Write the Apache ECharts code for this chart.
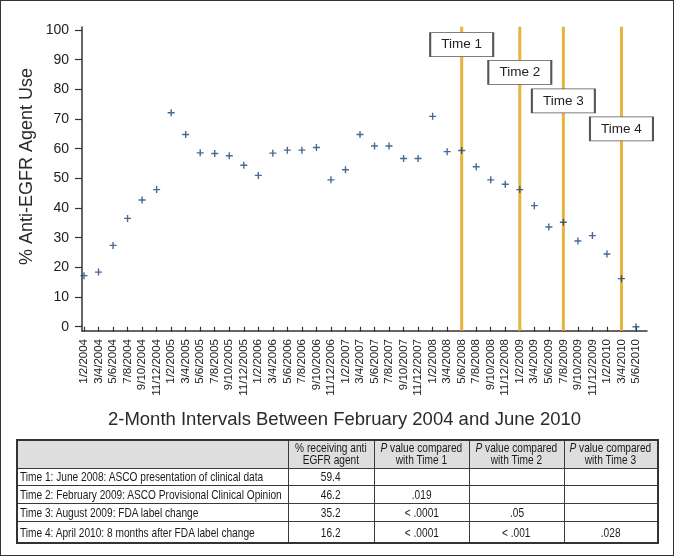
<!DOCTYPE html>
<html>
<head>
<meta charset="utf-8">
<script src="https://cdn.jsdelivr.net/npm/echarts@6/dist/echarts.min.js"></script>
<style>
  html, body { margin:0; padding:0; background:#fff; }
  #wrap { position:relative; width:675px; height:558px; overflow:hidden; }
  #chart { position:absolute; left:0; top:0; width:675px; height:558px; }
  #frame { position:absolute; left:0; top:0; width:672px; height:554px; border:1.5px solid #333; pointer-events:none; }
  #tbl { position:absolute; left:16px; top:439px; width:642px; border-collapse:collapse; table-layout:fixed;
         font-family:'Liberation Sans', Arial, sans-serif; font-size:13px; color:#1a1a1a; border:2px solid #333; }
  #tbl td { border:1.5px solid #3a3a3a; padding:0; overflow:hidden; white-space:nowrap; }
  #tbl tr.hd td { background:#dedede; text-align:center; line-height:12.5px; }
  #tbl td.c { text-align:center; }
  #tbl td.l { text-align:left; padding-left:2px; }
  .s { display:inline-block; transform:scaleX(0.78); white-space:nowrap; }
  td.l .s { transform-origin:left center; }
  td.c .s, tr.hd .s { transform-origin:center center; margin:0 -60px; }
</style>
</head>
<body>
<div id="wrap">
  <div id="chart"></div>
  <table id="tbl"></table>
  <div id="frame"></div>
</div>
<script>
// ---- data ----
const dates = ['1/2/2004','3/4/2004','5/6/2004','7/8/2004','9/10/2004','11/12/2004',
  '1/2/2005','3/4/2005','5/6/2005','7/8/2005','9/10/2005','11/12/2005',
  '1/2/2006','3/4/2006','5/6/2006','7/8/2006','9/10/2006','11/12/2006',
  '1/2/2007','3/4/2007','5/6/2007','7/8/2007','9/10/2007','11/12/2007',
  '1/2/2008','3/4/2008','5/6/2008','7/8/2008','9/10/2008','11/12/2008',
  '1/2/2009','3/4/2009','5/6/2009','7/8/2009','9/10/2009','11/12/2009',
  '1/2/2010','3/4/2010','5/6/2010'];
const usePct = [17.2,18.4,27.4,36.5,42.7,46.2,72.1,64.8,58.6,58.4,57.6,54.4,
  51.0,58.5,59.5,59.5,60.4,49.5,52.9,64.8,60.9,60.9,56.7,56.7,
  70.9,59.0,59.4,53.9,49.5,48.0,46.2,40.8,33.6,35.2,28.9,30.7,24.5,16.2,0];
const timeNames = ['Time 1','Time 2','Time 3','Time 4'];
const timeDates = ['5/6/2008','1/2/2009','7/8/2009','3/4/2010'];
const timeLabelY = [95.1, 85.7, 76.1, 66.7];
const timeLineSpan = [-1.4, 101.1];

const rowLabels = ['Time 1: June 2008: ASCO presentation of clinical data',
  'Time 2: February 2009: ASCO Provisional Clinical Opinion',
  'Time 3: August 2009: FDA label change',
  'Time 4: April 2010: 8 months after FDA label change'];
const rowPct = ['59.4','46.2','35.2','16.2'];
const pVsT1 = ['', '.019', '< .0001', '< .0001'];
const pVsT2 = ['', '', '.05', '< .001'];
const pVsT3 = ['', '', '', '.028'];
const headers = ['', '% receiving anti<br>EGFR agent', '<i>P</i> value compared<br>with Time 1',
  '<i>P</i> value compared<br>with Time 2', '<i>P</i> value compared<br>with Time 3'];

// ---- table ----
const colW = [271, 86, 95.5, 94.5, 94];
const rowH = [17.7, 17.7, 18, 22];
let html = '<colgroup>' + colW.map(w => '<col style="width:' + w + 'px">').join('') + '</colgroup>';
html += '<tr class="hd" style="height:28px">' + headers.map(h => '<td><span class="s">' + h + '</span></td>').join('') + '</tr>';
for (let i = 0; i < rowLabels.length; i++) {
  html += '<tr style="height:' + rowH[i] + 'px">' +
    '<td class="l"><span class="s">' + rowLabels[i] + '</span></td>' +
    '<td class="c"><span class="s">' + rowPct[i] + '</span></td>' +
    '<td class="c"><span class="s">' + pVsT1[i] + '</span></td>' +
    '<td class="c"><span class="s">' + pVsT2[i] + '</span></td>' +
    '<td class="c"><span class="s">' + pVsT3[i] + '</span></td></tr>';
}
document.getElementById('tbl').innerHTML = html;

// ---- chart ----
const chart = echarts.init(document.getElementById('chart'), null, { renderer: 'canvas' });
const txt = '#222';
const font = "'Liberation Sans', Arial, sans-serif";
const plus = 'path://M3.2,0H4.8V3.2H8V4.8H4.8V8H3.2V4.8H0V3.2H3.2Z';

const lineSeries = timeDates.map(d => ({
  type: 'line', xAxisIndex: 0, yAxisIndex: 0, z: 1, silent: true, clip: false,
  symbol: 'none', lineStyle: { color: '#E7B43C', width: 3 },
  data: timeLineSpan.map(v => [d, v])
}));

chart.setOption({
  animation: false,
  backgroundColor: '#fff',
  textStyle: { fontFamily: font },
  grid: [
    { left: 84, right: 39, top: 30, bottom: 231.3 },
    { left: 82, right: 28, top: 27, bottom: 227 }
  ],
  xAxis: [
    { type: 'category', gridIndex: 0, data: dates, boundaryGap: false, offset: 4.3,
      axisLine: { show: false },
      axisTick: { show: true, length: 5, lineStyle: { color: '#333', width: 1.2 } },
      axisLabel: { rotate: 90, interval: 0, fontSize: 11.5, color: txt, margin: 8, fontFamily: font },
      splitLine: { show: false } },
    { type: 'value', gridIndex: 1, min: 0, max: 1,
      axisLine: { show: true, onZero: false, lineStyle: { color: '#333', width: 1.5 } },
      axisTick: { show: false }, axisLabel: { show: false }, splitLine: { show: false } }
  ],
  yAxis: [
    { type: 'value', gridIndex: 0, min: 0, max: 100, interval: 10, offset: 2,
      axisLine: { show: false },
      axisTick: { show: true, length: 7, lineStyle: { color: '#333', width: 1.2 } },
      axisLabel: { fontSize: 14, color: txt, margin: 13, fontFamily: font },
      splitLine: { show: false } },
    { type: 'value', gridIndex: 1, min: 0, max: 1,
      axisLine: { show: true, onZero: false, lineStyle: { color: '#333', width: 1.5 } },
      axisTick: { show: false }, axisLabel: { show: false }, splitLine: { show: false } }
  ],
  series: lineSeries.concat([
    { type: 'scatter', xAxisIndex: 0, yAxisIndex: 0, z: 3,
      data: usePct.map((v, i) => [dates[i], v]),
      symbol: plus, symbolSize: 7, itemStyle: { color: '#1d4474' } },
    { type: 'scatter', xAxisIndex: 0, yAxisIndex: 0, z: 5, clip: false, silent: true,
      data: timeNames.map((n, i) => ({ name: n, value: [timeDates[i], timeLabelY[i]] })),
      symbol: 'rect', symbolSize: [63, 24],
      itemStyle: { color: '#fff', borderColor: '#555', borderWidth: 1.3, opacity: 1 },
      label: { show: true, position: 'inside', color: txt, fontSize: 13.5, fontFamily: font,
        formatter: p => p.name } }
  ]),
  graphic: [
    { type: 'text', x: 27, y: 166.5, rotation: Math.PI / 2,
      style: { text: '% Anti-EGFR Agent Use', fontSize: 18, fill: '#2a2a2a', fontFamily: font,
        textAlign: 'center', textVerticalAlign: 'middle' } },
    { type: 'text', x: 344.5, y: 420,
      style: { text: '2-Month Intervals Between February 2004 and June 2010', fontSize: 18.5, fill: '#2a2a2a',
        fontFamily: font, textAlign: 'center', textVerticalAlign: 'middle' } }
  ]
});
</script>
</body>
</html>
